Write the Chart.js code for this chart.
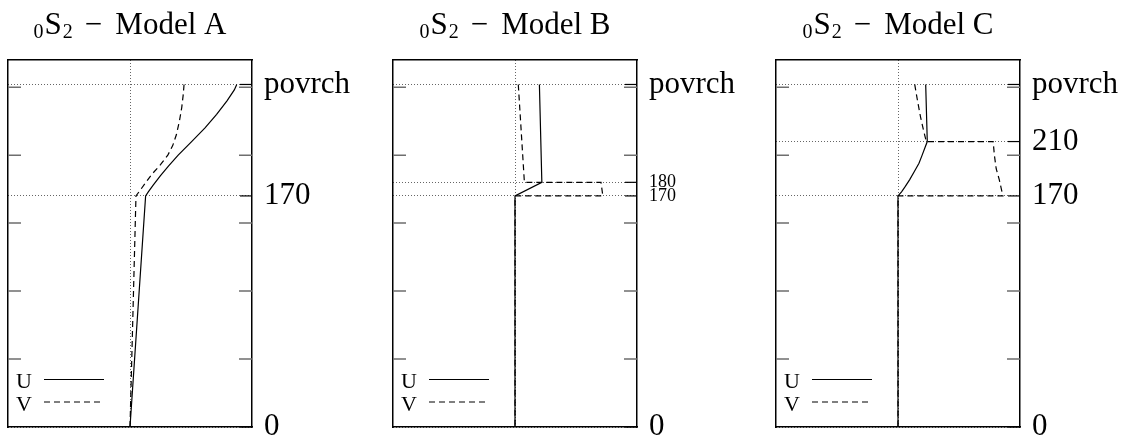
<!DOCTYPE html>
<html lang="cs">
<head>
<meta charset="UTF-8">
<title>0S2 - modely A, B, C</title>
<style>
  body { margin: 0; background: #fff; width: 1135px; height: 439px; overflow: hidden; position: relative; }
  canvas { position: absolute; top: 0; }
</style>
</head>
<body>

<canvas id="modelA" width="367" height="439" style="left:0px"></canvas>
<canvas id="modelB" width="367" height="439" style="left:385px"></canvas>
<canvas id="modelC" width="367" height="439" style="left:768px"></canvas>

<script src="https://cdn.jsdelivr.net/npm/chart.js"></script>
<script>
// hloubka: 0 = dno, povrch = 252 ; amplitudy U (plna) a V (carkovana)
const yMax = 270;
const minorTicks = [50, 100, 150, 200, 250];
const seriesNames = ['U', 'V'];

// Model A
const depthUA = [252, 248, 240, 230, 220, 210, 200, 192, 185, 178, 173, 170, 0];
const valUA   = [0.875, 0.855, 0.795, 0.71, 0.615, 0.505, 0.395, 0.315, 0.25, 0.19, 0.15, 0.128, 0];
const depthVA = [252, 245, 235, 225, 215, 207, 200, 193, 186, 180, 175, 170, 0];
const valVA   = [0.443, 0.437, 0.424, 0.405, 0.38, 0.35, 0.31, 0.25, 0.18, 0.13, 0.09, 0.049, 0];
const yTicksA  = [0, 170, 252];
const yLabelsA = ['0', '170', 'povrch'];
const ySizesA  = [31, 31, 31];

// Model B
const depthUB = [252, 180, 170, 0];
const valUB   = [0.2, 0.22, 0, 0];
const depthVB = [252, 180, 180, 170, 170, 0];
const valVB   = [0.027, 0.077, 0.705, 0.72, 0, 0];
const yTicksB  = [0, 170, 180, 252];
const yLabelsB = ['0', '170', '180', 'povrch'];
const ySizesB  = [31, 18, 18, 31];

// Model C
const depthUC = [252, 210, 206, 200, 194, 188, 182, 177, 173, 170, 0];
const valUC   = [0.227, 0.24, 0.223, 0.198, 0.172, 0.134, 0.096, 0.06, 0.029, 0, 0];
const depthVC = [252, 240, 228, 218, 210, 210, 200, 190, 182, 176, 170, 170, 0];
const valVC   = [0.137, 0.16, 0.185, 0.21, 0.232, 0.78, 0.79, 0.805, 0.83, 0.845, 0.86, 0, 0];
const yTicksC  = [0, 170, 210, 252];
const yLabelsC = ['0', '170', '210', 'povrch'];
const ySizesC  = [31, 31, 31, 31];

const serif = '"Liberation Serif", "Times New Roman", serif';

function pts(vals, depths) {
    return vals.map((v, i) => ({ x: v, y: depths[i] }));
}

// pevne rozmery os, aby plocha grafu sedela
function fixSize(w, h) {
    return s => {
        if (w !== null) s.width = w;
        if (h !== null) s.height = h;
        s.paddingTop = s.paddingBottom = s.paddingLeft = s.paddingRight = 0;
    };
}

// nadpis, vnitrni znacky a legenda
function makeDecor(name, labelTicks) {
    return {
        id: 'decor',
        afterDraw(chart) {
            const { ctx, chartArea: a, scales } = chart;
            const ys = scales.y;
            ctx.save();

            // sede znacky po 50 na obou stranach
            ctx.strokeStyle = '#6e6e6e';
            ctx.lineWidth = 1.5;
            minorTicks.forEach(v => {
                const py = ys.getPixelForValue(v);
                ctx.beginPath();
                ctx.moveTo(a.left, py); ctx.lineTo(a.left + 13, py);
                ctx.moveTo(a.right - 13, py); ctx.lineTo(a.right, py);
                ctx.stroke();
            });
            // cerne znacky u popisku vpravo
            ctx.strokeStyle = '#000';
            ctx.lineWidth = 1.2;
            labelTicks.forEach(v => {
                const py = ys.getPixelForValue(v);
                ctx.beginPath();
                ctx.moveTo(a.right - 12, py); ctx.lineTo(a.right, py);
                ctx.stroke();
            });

            // nadpis  0S2 - Model X
            const big = '31px ' + serif, sub = '20px ' + serif;
            const parts = [['0', sub, 38], ['S', big, 34], ['2', sub, 38], ['\u2212', big, 34], [name, big, 34]];
            const gaps = [1, 1, 12, 13, 0];
            let total = 0;
            const widths = parts.map((p, i) => {
                ctx.font = p[1];
                const w = ctx.measureText(p[0]).width;
                total += w + gaps[i];
                return w;
            });
            let x = (a.left + a.right) / 2 - total / 2;
            ctx.fillStyle = '#000';
            ctx.textBaseline = 'alphabetic';
            ctx.textAlign = 'left';
            parts.forEach((p, i) => {
                ctx.font = p[1];
                ctx.fillText(p[0], x, p[2]);
                x += widths[i] + gaps[i];
            });

            // legenda vlevo dole
            ctx.font = '22px ' + serif;
            chart.data.datasets.forEach((ds, i) => {
                const base = a.bottom - 39 + i * 22.5;
                ctx.fillText(ds.label, a.left + 8, base);
                ctx.setLineDash(ds.borderDash || []);
                ctx.lineWidth = ds.borderWidth;
                ctx.beginPath();
                ctx.moveTo(a.left + 36, base - 8.5);
                ctx.lineTo(a.left + 96, base - 8.5);
                ctx.stroke();
            });
            ctx.restore();
        }
    };
}

function makePanel(id, name, uVals, uDepths, vVals, vDepths, tickVals, tickLabels, tickSizes) {
    const cfg = {
        type: 'scatter',
        data: {
            datasets: [
                {
                    label: seriesNames[0],
                    data: pts(uVals, uDepths),
                    showLine: true,
                    borderColor: '#000',
                    borderWidth: 1.2,
                    pointRadius: 0,
                    tension: 0
                },
                {
                    label: seriesNames[1],
                    data: pts(vVals, vDepths),
                    showLine: true,
                    borderColor: '#000',
                    borderWidth: 1.2,
                    borderDash: [6, 4],
                    pointRadius: 0,
                    tension: 0
                }
            ]
        },
        options: {
            responsive: false,
            animation: false,
            layout: { padding: { left: 8, top: 60, bottom: 12, right: 0 } },
            plugins: {
                legend: { display: false },
                tooltip: { enabled: false },
                title: { display: false }
            },
            scales: {
                x: {
                    type: 'linear', position: 'bottom', min: -1, max: 1,
                    afterBuildTicks: s => { s.ticks = [{ value: 0 }]; },
                    afterFit: fixSize(null, 0),
                    ticks: { display: false },
                    grid: { color: '#666', lineWidth: 1, drawTicks: false },
                    border: { color: '#000', width: 1.5, dash: [1, 2] }
                },
                xTop: {
                    type: 'linear', axis: 'x', position: 'top', min: -1, max: 1,
                    afterFit: fixSize(null, 0),
                    ticks: { display: false },
                    grid: { display: false, drawTicks: false },
                    border: { color: '#000', width: 1.5 }
                },
                yLeft: {
                    type: 'linear', axis: 'y', position: 'left', min: 0, max: yMax,
                    afterFit: fixSize(0, null),
                    ticks: { display: false },
                    grid: { display: false, drawTicks: false },
                    border: { color: '#000', width: 1.5 }
                },
                y: {
                    type: 'linear', position: 'right', min: 0, max: yMax,
                    afterBuildTicks: s => { s.ticks = tickVals.map(v => ({ value: v })); },
                    afterFit: fixSize(115, null),
                    ticks: {
                        autoSkip: false,
                        padding: 12,
                        color: '#000',
                        font: c => ({ family: serif, size: tickSizes[c.index] || 31 }),
                        callback: (v, i) => tickLabels[i]
                    },
                    grid: { color: '#666', lineWidth: 1, drawTicks: false },
                    border: { color: '#000', width: 1.5, dash: [1, 2] }
                }
            }
        },
        plugins: [makeDecor(name, tickVals)]
    };
    return new Chart(document.getElementById(id), cfg);
}

makePanel('modelA', 'Model A', valUA, depthUA, valVA, depthVA, yTicksA, yLabelsA, ySizesA);
makePanel('modelB', 'Model B', valUB, depthUB, valVB, depthVB, yTicksB, yLabelsB, ySizesB);
makePanel('modelC', 'Model C', valUC, depthUC, valVC, depthVC, yTicksC, yLabelsC, ySizesC);
</script>
</body>
</html>
